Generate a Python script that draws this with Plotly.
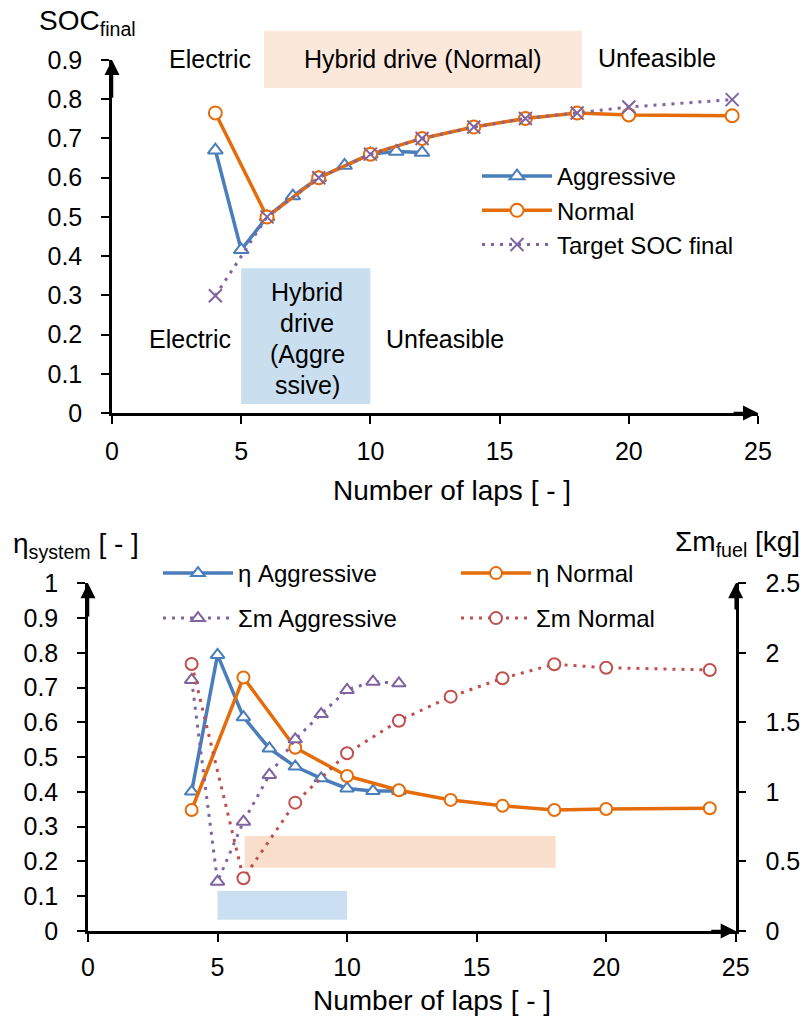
import plotly.graph_objects as go

# ---------------- data ----------------
laps_aggressive = [4, 5, 6, 7, 8, 9, 10, 11, 12]
laps_normal = [4, 6, 8, 10, 12, 14, 16, 18, 20, 24]
laps_target = [4, 6, 8, 10, 12, 14, 16, 18, 20, 24]

soc_aggressive = [0.670, 0.416, 0.500, 0.553, 0.600, 0.631, 0.660, 0.667, 0.664]
soc_normal = [0.765, 0.500, 0.600, 0.660, 0.700, 0.729, 0.751, 0.765, 0.760, 0.758]
soc_target = [0.299, 0.500, 0.600, 0.660, 0.700, 0.729, 0.751, 0.765, 0.780, 0.799]

eta_aggressive = [0.401, 0.794, 0.615, 0.525, 0.473, 0.439, 0.410, 0.403, 0.403]
eta_normal = [0.348, 0.729, 0.527, 0.446, 0.405, 0.377, 0.360, 0.348, 0.351, 0.353]
mfuel_aggressive = [1.805, 0.355, 0.786, 1.122, 1.378, 1.560, 1.733, 1.793, 1.781]
mfuel_normal = [1.920, 0.379, 0.923, 1.278, 1.512, 1.685, 1.817, 1.918, 1.893, 1.877]

x_ticks = [0, 5, 10, 15, 20, 25]
soc_ticks = [0, 0.1, 0.2, 0.3, 0.4, 0.5, 0.6, 0.7, 0.8, 0.9]
soc_ticktext = ["0", "0.1", "0.2", "0.3", "0.4", "0.5", "0.6", "0.7", "0.8", "0.9"]
eta_ticks = [0, 0.1, 0.2, 0.3, 0.4, 0.5, 0.6, 0.7, 0.8, 0.9, 1.0]
eta_ticktext = ["0", "0.1", "0.2", "0.3", "0.4", "0.5", "0.6", "0.7", "0.8", "0.9", "1"]
m_ticks = [0, 0.5, 1.0, 1.5, 2.0, 2.5]
m_ticktext = ["0", "0.5", "1", "1.5", "2", "2.5"]

# ---------------- style ----------------
W, H = 805, 1021
FONT = "Arial, Liberation Sans, sans-serif"
BLUE = "#4A7EBB"
ORANGE = "#E46C0A"
PURPLE = "#8064A2"
RED = "#C0504D"
DOT = "3px,6px"


def px(xp):
    return xp / W


def py(yp):
    return 1 - yp / H


fig = go.Figure()

# ---- top chart ----
fig.add_trace(go.Scatter(
    x=laps_aggressive, y=soc_aggressive, name="Aggressive", mode="lines+markers",
    line=dict(color=BLUE, width=3.5),
    marker=dict(symbol="triangle-up", size=13, color="white", line=dict(color=BLUE, width=2)),
    xaxis="x", yaxis="y", legend="legend"))
fig.add_trace(go.Scatter(
    x=laps_normal, y=soc_normal, name="Normal", mode="lines+markers",
    line=dict(color=ORANGE, width=3.5),
    marker=dict(symbol="circle", size=13, color="white", line=dict(color=ORANGE, width=2)),
    xaxis="x", yaxis="y", legend="legend"))
fig.add_trace(go.Scatter(
    x=laps_target, y=soc_target, name="Target SOC final", mode="lines+markers",
    line=dict(color=PURPLE, width=3, dash=DOT),
    marker=dict(symbol="x-thin-open", size=13, color=PURPLE, line=dict(color=PURPLE, width=2)),
    xaxis="x", yaxis="y", legend="legend"))

# ---- bottom chart ----
fig.add_trace(go.Scatter(
    x=laps_aggressive, y=eta_aggressive, name="η Aggressive", mode="lines+markers",
    line=dict(color=BLUE, width=3.5),
    marker=dict(symbol="triangle-up", size=12, color="white", line=dict(color=BLUE, width=2)),
    xaxis="x2", yaxis="y2", legend="legend2"))
fig.add_trace(go.Scatter(
    x=laps_normal, y=eta_normal, name="η Normal", mode="lines+markers",
    line=dict(color=ORANGE, width=3.5),
    marker=dict(symbol="circle", size=12, color="white", line=dict(color=ORANGE, width=2)),
    xaxis="x2", yaxis="y2", legend="legend2"))
fig.add_trace(go.Scatter(
    x=laps_aggressive, y=mfuel_aggressive, name="Σm Aggressive", mode="lines+markers",
    line=dict(color=PURPLE, width=3, dash=DOT),
    marker=dict(symbol="triangle-up", size=12, color="white", line=dict(color=PURPLE, width=2)),
    xaxis="x2", yaxis="y3", legend="legend3"))
fig.add_trace(go.Scatter(
    x=laps_normal, y=mfuel_normal, name="Σm Normal", mode="lines+markers",
    line=dict(color=RED, width=3, dash=DOT),
    marker=dict(symbol="circle", size=12, color="white", line=dict(color=RED, width=2)),
    xaxis="x2", yaxis="y3", legend="legend3"))

axis_common = dict(showgrid=False, zeroline=False, showline=True, linecolor="black", linewidth=2.5,
                   ticks="outside", ticklen=8, tickwidth=2, tickcolor="black",
                   tickfont=dict(size=25, color="black", family=FONT))

LEG_FONT = dict(size=24, family=FONT, color="black")
fig.update_layout(
    width=W, height=H, margin=dict(l=0, r=0, t=0, b=0, autoexpand=False),
    paper_bgcolor="white", plot_bgcolor="rgba(0,0,0,0)",
    font=dict(family=FONT, color="black"),
    xaxis=dict(domain=[px(112), px(758)], range=[0, 25], tickvals=x_ticks, anchor="y",
               ticklabelstandoff=6, **axis_common),
    yaxis=dict(domain=[py(413), py(60)], range=[0, 0.9], tickvals=soc_ticks, ticktext=soc_ticktext,
               anchor="x", ticklabelstandoff=14, **axis_common),
    xaxis2=dict(domain=[px(88), px(735.7)], range=[0, 25], tickvals=x_ticks, anchor="y2",
                ticklabelstandoff=4, **axis_common),
    yaxis2=dict(domain=[py(931), py(583.3)], range=[0, 1], tickvals=eta_ticks, ticktext=eta_ticktext,
                anchor="x2", ticklabelstandoff=14, **axis_common),
    yaxis3=dict(range=[0, 2.5], tickvals=m_ticks, ticktext=m_ticktext, overlaying="y2", side="right",
                anchor="x2", ticklabelstandoff=14, **axis_common),
    legend=dict(x=px(477), y=py(154), xanchor="left", yanchor="top", bgcolor="rgba(0,0,0,0)",
                itemwidth=70, font=LEG_FONT),
    legend2=dict(x=px(158), y=py(551), xanchor="left", yanchor="top", orientation="h",
                 itemwidth=70, entrywidth=213, entrywidthmode="pixels", bgcolor="rgba(0,0,0,0)",
                 font=LEG_FONT),
    legend3=dict(x=px(158), y=py(596), xanchor="left", yanchor="top", orientation="h",
                 itemwidth=70, entrywidth=213, entrywidthmode="pixels", bgcolor="rgba(0,0,0,0)",
                 font=LEG_FONT),
    showlegend=True,
)

# ---- shaded regions ----
shapes = [
    dict(type="rect", xref="paper", yref="paper", x0=px(264), x1=px(582), y0=py(88), y1=py(31),
         fillcolor="#FCE8DA", line=dict(width=0), layer="below"),
    dict(type="rect", xref="x", yref="y", x0=5, x1=10, y0=0.023, y1=0.369,
         fillcolor="#C9DFF0", line=dict(width=0), layer="below"),
    dict(type="rect", xref="x2", yref="y2", x0=6.05, x1=18.05, y0=0.182, y1=0.273,
         fillcolor="#F9DECB", line=dict(width=0), layer="below"),
    dict(type="rect", xref="x2", yref="y2", x0=5, x1=10, y0=0.032, y1=0.115,
         fillcolor="#CADFF1", line=dict(width=0), layer="below"),
]
fig.update_layout(shapes=shapes)

ann = []


def text(xp, yp, s, size=25, **kw):
    ann.append(dict(x=px(xp), y=py(yp), xref="paper", yref="paper", text=s, showarrow=False,
                    xanchor="center", yanchor="middle", font=dict(size=size, family=FONT, color="black"), **kw))


# region labels
text(210, 59, "Electric", 25)
text(423, 59, "Hybrid drive (Normal)", 25)
text(657, 58, "Unfeasible", 25)
text(190, 339, "Electric", 25)
text(445, 339, "Unfeasible", 25)
for i, s in enumerate(["Hybrid", "drive", "(Aggre", "ssive)"]):
    text(307, 292 + i * 31, s, 25)

# axis titles
text(87, 22, "SOC<sub>final</sub>", 28)
text(452, 490, "Number of laps [ - ]", 28)
text(76, 545, "η<sub>system</sub> [ - ]", 28)
text(737, 543, "Σm<sub>fuel</sub> [kg]", 28)
text(432, 1000, "Number of laps [ - ]", 28)


# axis arrows
def arrow(xr, yr, x, y, ax, ay):
    ann.append(dict(xref=xr, yref=yr, axref=xr, ayref=yr, x=x, y=y, ax=ax, ay=ay, text="",
                    showarrow=True, arrowhead=2, arrowsize=1.2, arrowwidth=2.5, arrowcolor="black",
                    standoff=0, startstandoff=0))


arrow("x", "y", 0, 0.9, 0, 0.8)
arrow("x", "y", 25, 0, 24, 0)
arrow("x2", "y2", 0, 1, 0, 0.9)
arrow("x2", "y2", 25, 0, 24, 0)
arrow("x2", "y3", 25, 2.5, 25, 2.3)

fig.update_layout(annotations=ann)

fig.write_html("out.html", config={"displayModeBar": False},
               post_script="document.body.style.margin='0px';document.body.style.overflow='hidden';")
